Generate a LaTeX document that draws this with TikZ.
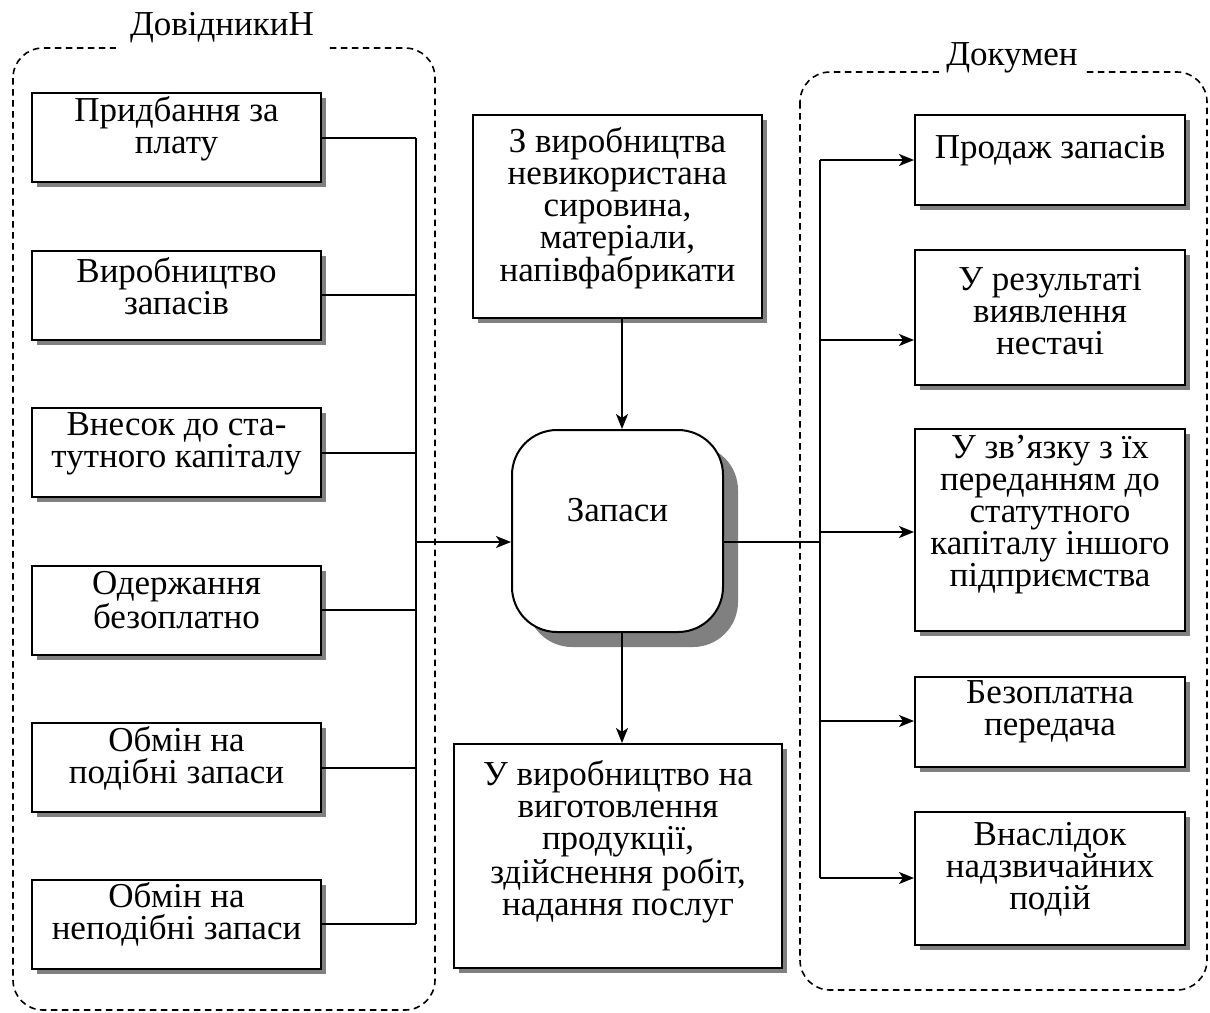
\documentclass[tikz,border=0pt]{standalone}
\usepackage{fontspec}
\setmainfont{Liberation Serif}
\usetikzlibrary{arrows.meta,shadows}
\begin{document}
\begin{tikzpicture}[x=1pt,y=-1pt,
 box/.style={draw, line width=2pt, fill=white, inner sep=0pt,
   drop shadow={shadow xshift=5pt, shadow yshift=-5pt, fill=black!50, opacity=1}},
 txt/.style={align=center, inner sep=0pt, font=\fontsize{35}{32}\selectfont},
 conn/.style={line width=2pt},
 arr/.style={conn, -{Stealth[length=15pt,width=12pt,inset=4pt]}},
 grp/.style={draw, dash pattern=on 6.5pt off 4.5pt, line width=1.6pt, rounded corners=30pt},
 lbl/.style={fill=white, inner ysep=0pt, font=\fontsize{35}{32}\selectfont}
]
\useasboundingbox (0,0) rectangle (1210,1012);

% group frames
\draw[grp] (13,48) rectangle (435,1010);
\draw[grp] (800,72) rectangle (1207,990);
\node[lbl, inner xsep=14pt, minimum height=50pt] (gL) at (222,28) {ДовідникиН};
\node[lbl, inner xsep=7pt, minimum height=36pt] (gR) at (1012,58) {Докумен};

% left boxes
\foreach \n/\y in {L1/137.5, L2/295, L3/452.5, L4/610, L5/767.5, L6/924}
  \node[box, minimum width=289pt, minimum height=89pt] (\n) at (176.5,\y) {};
\node[txt] (tL1) at (176.5,129) {Придбання за\\плату};
\node[txt] (tL2) at (176.5,286) {Виробництво\\запасів};
\node[txt] (tL3) at (176.5,444) {Внесок до ста-\\тутного капіталу};
\node[txt] (tL4) at (176.5,600) {Одержання\\безоплатно};
\node[txt] (tL5) at (176.5,758) {Обмін на\\подібні запаси};
\node[txt] (tL6) at (176.5,914) {Обмін на\\неподібні запаси};

% centre
\node[box, minimum width=289pt, minimum height=203pt] (T) at (617.5,216.5) {};
\node[txt] (tT) at (617.5,208) {З виробництва\\невикористана\\сировина,\\матеріали,\\напівфабрикати};
\node[draw, line width=2pt, fill=white, inner sep=0pt, rounded corners=45pt,
   minimum width=211pt, minimum height=202pt,
   drop shadow={shadow xshift=15pt, shadow yshift=-15pt, fill=black!50, opacity=1}] (Z) at (617.5,531) {};
\node[txt] (tZ) at (617.5,510) {Запаси};
\node[box, minimum width=328pt, minimum height=224pt] (B) at (618,856) {};
\node[txt] (tB) at (618,842) {У виробництво на\\виготовлення\\продукції,\\здійснення робіт,\\надання послуг};

% right boxes
\node[box, minimum width=270pt, minimum height=90pt] (R1) at (1050,160) {};
\node[box, minimum width=270pt, minimum height=135pt] (R2) at (1050,317.5) {};
\node[box, minimum width=270pt, minimum height=202pt] (R3) at (1050,530) {};
\node[box, minimum width=270pt, minimum height=90pt] (R4) at (1050,722) {};
\node[box, minimum width=270pt, minimum height=133pt] (R5) at (1050,878.5) {};
\node[txt] (tR1) at (1050,151) {Продаж запасів};
\node[txt] (tR2) at (1050,311) {У результаті\\виявлення\\нестачі};
\node[txt] (tR3) at (1050,515) {У зв’язку з їх\\переданням до\\статутного\\капіталу іншого\\підприємства};
\node[txt] (tR4) at (1050,712) {Безоплатна\\передача};
\node[txt] (tR5) at (1050,869) {Внаслідок\\надзвичайних\\подій};

% junction coordinates
\coordinate (jl) at (416,542);
\coordinate (jr) at (820,542);
\coordinate (cx) at (622,0);
\coordinate (r1) at (820,160);
\coordinate (r2) at (820,340);
\coordinate (r3) at (820,532);
\coordinate (r4) at (820,721);
\coordinate (r5) at (820,878);

% left connectors
\foreach \n in {L1,L2,L3,L4,L5,L6}
  \draw[conn] (\n.east) -- (\n.east -| jl);
\draw[conn] (L1.east -| jl) -- (L6.east -| jl);
\draw[arr] (jl) -- (jl -| Z.west);

% centre connectors
\draw[arr] (T.south -| cx) -- (Z.north -| cx);
\draw[arr] (Z.south -| cx) -- (B.north -| cx);

% right connectors
\draw[conn] (jl -| Z.east) -- (jr);
\draw[conn] (r1) -- (r5);
\draw[arr] (r1) -- (r1 -| R1.west);
\draw[arr] (r2) -- (r2 -| R2.west);
\draw[arr] (r3) -- (r3 -| R3.west);
\draw[arr] (r4) -- (r4 -| R4.west);
\draw[arr] (r5) -- (r5 -| R5.west);
\end{tikzpicture}
\end{document}
